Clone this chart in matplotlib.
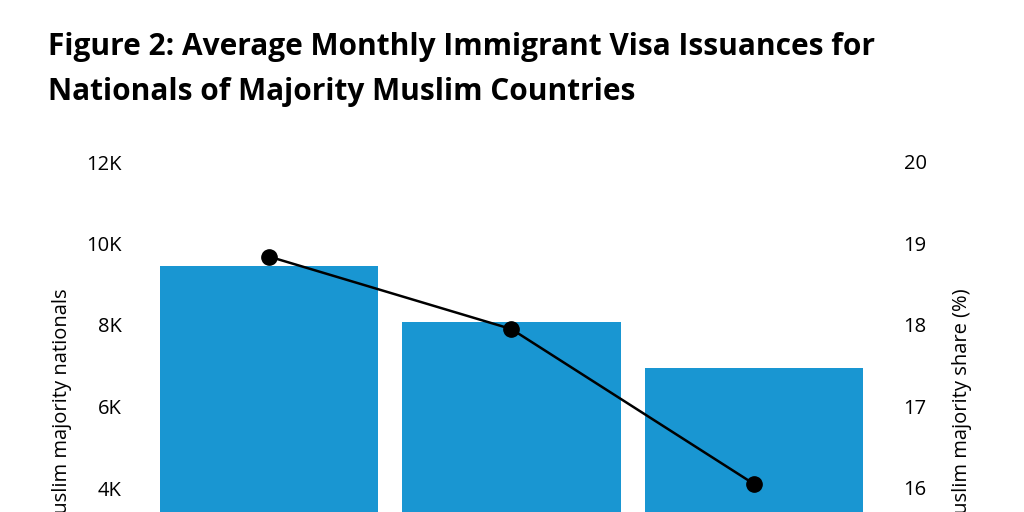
import matplotlib
matplotlib.use("Agg")
import matplotlib.pyplot as plt

plt.rcParams['font.family'] = ['Open Sans', 'DejaVu Sans']

periods = ['Period 1', 'Period 2', 'Period 3']
issuances = [9460, 8070, 6940]
share_pct = [18.84, 17.95, 16.05]

W, H = 1024, 512
fig = plt.figure(figsize=(W / 100, H / 100), dpi=100)

# axes extends below the visible figure (reference is cropped)
left, right, top, bottom = 145, 880, 162, 651
ax = fig.add_axes([left / W, 1 - bottom / H, (right - left) / W, (bottom - top) / H])
x = list(range(len(periods)))
ax.bar(x, issuances, width=0.9, color='#1996D2')
ax.set_xlim(-0.511, 2.52)
ax.set_ylim(0, 12000)
ax.set_yticks([4000, 6000, 8000, 10000, 12000])
ax.set_yticklabels(['4K', '6K', '8K', '10K', '12K'])
ax.set_xticks([])

ax2 = ax.twinx()
ax2.plot(x, share_pct, color='black', linewidth=1.8, marker='o', markersize=11)
ax2.set_ylim(14, 20)
ax2.set_yticks([16, 17, 18, 19, 20])

for a in (ax, ax2):
    for s in a.spines.values():
        s.set_visible(False)
    a.tick_params(length=0, labelsize=14.5, pad=17)

fig.text(62 / W, 1 - 288 / H, 'Immigrant visas issued to Muslim majority nationals',
         rotation=90, va='top', ha='center', fontsize=14.5)
fig.text(962 / W, 1 - 288 / H, 'Muslim majority share (%)',
         rotation=90, va='top', ha='center', fontsize=14.5)

fig.text(48 / W, 1 - 47 / H, 'Figure 2: Average Monthly Immigrant Visa Issuances for',
         fontsize=21.5, fontweight='bold', va='center')
fig.text(48 / W, 1 - 92 / H, 'Nationals of Majority Muslim Countries',
         fontsize=21.5, fontweight='bold', va='center')

fig.savefig('out.png', dpi=100)
